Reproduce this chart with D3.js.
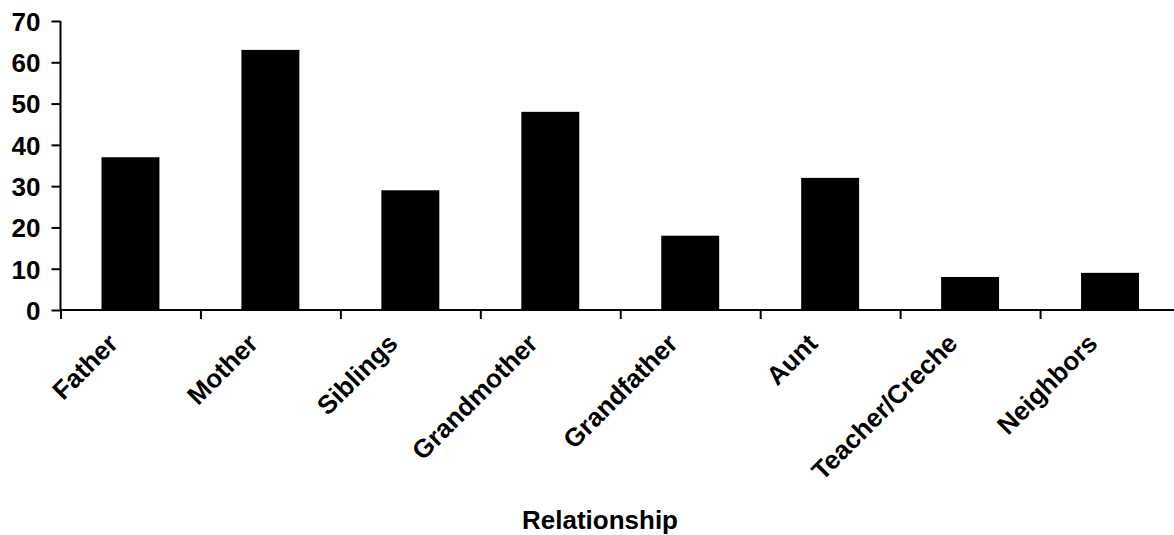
<!DOCTYPE html>
<html>
<head>
<meta charset="utf-8">
<script src="https://cdn.jsdelivr.net/npm/d3@7"></script>
<style>
  body { margin: 0; background: #fff; }
  text { font-family: "Liberation Sans", Arial, sans-serif; font-weight: bold; fill: #000; }
</style>
</head>
<body>
<div id="chart"></div>
<script>
const categories = ['Father', 'Mother', 'Siblings', 'Grandmother', 'Grandfather', 'Aunt', 'Teacher/Creche', 'Neighbors'];
const counts = [37, 63, 29, 48, 18, 32, 8, 9];
const yTicks = [0, 10, 20, 30, 40, 50, 60, 70];
const xTitle = 'Relationship';

const WIDTH = 1174;
const HEIGHT = 535;
const AXIS_X = 60.5;
const AXIS_Y = 310;
const PLOT_TOP = 21;
const PLOT_RIGHT = 1180;
const FONT = 26;

const svg = d3.select('#chart')
  .append('svg')
    .attr('width', WIDTH)
    .attr('height', HEIGHT);

const y = d3.scaleLinear().domain([0, 70]).range([AXIS_Y, PLOT_TOP]);

const x = d3.scaleBand()
  .domain(categories)
  .range([AXIS_X, PLOT_RIGHT])
  .paddingInner(0.586)
  .paddingOuter(0.293);

// bars
svg.append('g')
  .selectAll('rect')
  .data(categories)
  .enter()
  .append('rect')
    .attr('x', d => x(d))
    .attr('width', x.bandwidth())
    .attr('y', (d, i) => y(counts[i]))
    .attr('height', (d, i) => AXIS_Y - y(counts[i]))
    .attr('fill', '#000');

// y axis
const yAxis = svg.append('g')
  .attr('transform', `translate(${AXIS_X},0)`)
  .call(d3.axisLeft(y).tickValues(yTicks).tickSize(9).tickPadding(11));
yAxis.select('.domain').attr('stroke-width', 2).attr('d', `M0,${PLOT_TOP}V${AXIS_Y}`);
yAxis.selectAll('.tick line').attr('stroke-width', 2);
yAxis.selectAll('.tick text').attr('font-size', FONT).attr('dy', '0.36em');

// x axis: ticks at the category boundaries
const edges = d3.scaleLinear().domain([0, categories.length]).range([AXIS_X, PLOT_RIGHT]);
const xAxis = svg.append('g')
  .attr('transform', `translate(0,${AXIS_Y})`)
  .call(d3.axisBottom(edges).tickValues(d3.range(categories.length + 1)).tickSize(9).tickFormat(''));
xAxis.select('.domain').attr('stroke-width', 2).attr('d', `M${AXIS_X},0H${PLOT_RIGHT}`);
xAxis.selectAll('.tick line').attr('stroke-width', 2);

// rotated category labels
svg.append('g')
  .selectAll('text')
  .data(categories)
  .enter()
  .append('text')
    .attr('transform', d => `translate(${x(d) + x.bandwidth() / 2 - 11},345) rotate(-45)`)
    .attr('text-anchor', 'end')
    .attr('font-size', FONT)
    .text(d => d);

// axis title
svg.append('text')
  .attr('x', 600)
  .attr('y', 529)
  .attr('text-anchor', 'middle')
  .attr('font-size', FONT)
  .text(xTitle);
</script>
</body>
</html>
